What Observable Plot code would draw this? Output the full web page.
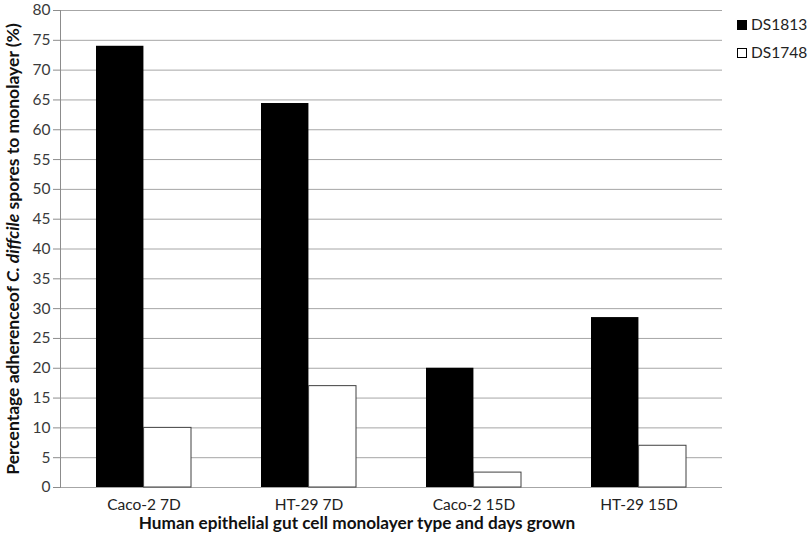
<!DOCTYPE html>
<html><head><meta charset="utf-8">
<script src="https://cdn.jsdelivr.net/npm/d3@7"></script>
<script src="https://cdn.jsdelivr.net/npm/@observablehq/plot@0.6"></script>
<style>
body{margin:0;background:#fff;}
#chart{position:relative;width:810px;height:538px;font-family:Lato, sans-serif;}
.leg{position:absolute;left:737px;font-size:15.5px;color:#222;display:flex;align-items:center;line-height:15px;}
.sw{width:10px;height:10px;margin-right:4px;box-sizing:border-box;border:1px solid #000;}
</style></head><body><div id="chart"></div>
<script>
const categories = ["Caco-2 7D", "HT-29 7D", "Caco-2 15D", "HT-29 15D"];
const series = ["DS1813", "DS1748"];
const ds1813 = [74, 64.4, 20, 28.5];
const ds1748 = [10, 17, 2.5, 7];
const yTicks = [0, 5, 10, 15, 20, 25, 30, 35, 40, 45, 50, 55, 60, 65, 70, 75, 80];
const xTitle = "Human epithelial gut cell monolayer type and days grown";
const yTitleParts = ["Percentage adherenceof ", "C. diffcile", " spores to monolayer (%)"];

const W = 810, H = 538, mL = 60, mR = 88, mT = 10, mB = 51;
const padIn = 0.425, padOut = padIn / 2;
const step = (W - mL - mR) / (categories.length - padIn + 2 * padOut);
const bw = step * (1 - padIn);
const rows = categories.map((c, i) => ({category: c, DS1813: ds1813[i], DS1748: ds1748[i]}));

const plot = Plot.plot({
  width: W, height: H, marginLeft: mL, marginRight: mR, marginTop: mT, marginBottom: mB,
  style: {fontFamily: "Lato, sans-serif", fontSize: "15.5px", color: "#333", background: "transparent"},
  x: {domain: categories, type: "band", paddingInner: padIn, paddingOuter: padOut, label: null},
  y: {domain: [0, 80], label: null},
  marks: [
    Plot.ruleY(yTicks, {stroke: "#a6a6a6", strokeWidth: 1}),
    Plot.frame({anchor: "left", stroke: "#8c8c8c"}),
    Plot.barY(rows, {x: "category", y: series[0], fill: "black", insetRight: bw / 2}),
    Plot.barY(rows, {x: "category", y: series[1], fill: "white", stroke: "#404040", strokeWidth: 1, insetLeft: bw / 2}),
    Plot.axisY({ticks: yTicks, tickSize: 7, tickPadding: 3, stroke: "#8c8c8c", fill: "#3a3a3a", label: null}),
    Plot.axisX({tickSize: 0, tickPadding: 11, fill: "#222", label: null})
  ]
});

const chart = document.getElementById("chart");
chart.appendChild(plot);

const svg = d3.select(plot);
svg.append("text")
  .attr("x", 357).attr("y", 529)
  .attr("text-anchor", "middle")
  .attr("font-family", "Lato, sans-serif").attr("font-size", 17.2).attr("font-weight", "bold").attr("fill", "#111")
  .text(xTitle);

const yl = svg.append("text")
  .attr("transform", "translate(19,249) rotate(-90)")
  .attr("text-anchor", "middle")
  .attr("font-family", "Lato, sans-serif").attr("font-size", 17.5).attr("font-weight", "bold").attr("fill", "#111");
yTitleParts.forEach((t, i) => {
  yl.append("tspan").attr("font-style", i === 1 ? "italic" : "normal").text(t);
});
yl.style("white-space", "pre");

const legColors = ["#000", "#fff"];
series.forEach((s, i) => {
  const d = document.createElement("div");
  d.className = "leg";
  d.style.top = (17 + i * 28) + "px";
  d.innerHTML = `<span class="sw" style="background:${legColors[i]}"></span><span>${s}</span>`;
  chart.appendChild(d);
});
</script></body></html>
